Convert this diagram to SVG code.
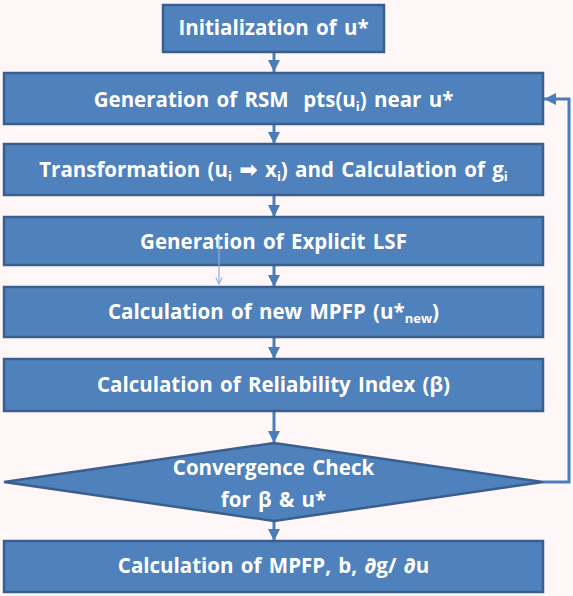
<svg xmlns="http://www.w3.org/2000/svg" width="573" height="596" viewBox="0 0 573 596">
<defs>
<style>
.box{fill:#4F81BD;stroke:#3A5F8E;stroke-width:2.5}
.t{font-family:"Open Sans","Liberation Sans",sans-serif;font-weight:bold;font-size:20.5px;word-spacing:2px;fill:#FFFFFF;text-anchor:middle}
.s{font-size:13px}
.ar{font-family:"DejaVu Sans",sans-serif;font-size:22px}
.c{fill:none;stroke:#4A7EBB;stroke-width:3}
.thin{fill:none;stroke:#8DB0DC;stroke-width:1.2}
</style>
<marker id="ah" viewBox="0 0 10 10" refX="10" refY="5" markerWidth="4" markerHeight="4" orient="auto" markerUnits="strokeWidth">
<path d="M0,0 L10,5 L0,10 Z" fill="#4A7EBB"/>
</marker>
<marker id="oh" viewBox="0 0 10 10" refX="9" refY="5" markerWidth="8" markerHeight="8" orient="auto" markerUnits="userSpaceOnUse">
<path d="M1,1 L9,5 L1,9" fill="none" stroke="#8DB0DC" stroke-width="1.4"/>
</marker>
</defs>
<rect width="573" height="596" fill="#FFF7F7"/>
<g id="connectors">
<line class="c" x1="274" y1="52" x2="274" y2="72" marker-end="url(#ah)"/>
<line class="c" x1="274" y1="124" x2="274" y2="144" marker-end="url(#ah)"/>
<line class="c" x1="274" y1="195" x2="274" y2="217" marker-end="url(#ah)"/>
<line class="c" x1="274" y1="265" x2="274" y2="287" marker-end="url(#ah)"/>
<line class="c" x1="274" y1="337" x2="274" y2="359" marker-end="url(#ah)"/>
<line class="c" x1="274" y1="411" x2="274" y2="443" marker-end="url(#ah)"/>
<line class="c" x1="274" y1="521" x2="274" y2="541" marker-end="url(#ah)"/>
<polyline class="c" points="543,482 569,482 569,99 544,99" marker-end="url(#ah)"/>
</g>
<g id="n1">
<rect class="box" x="163" y="5" width="221" height="47"/>
<text class="t" x="273.5" y="35">Initialization of u*</text>
</g>
<g id="n2">
<rect class="box" x="4" y="73" width="539" height="51"/>
<text class="t" x="273.5" y="107" xml:space="preserve">Generation of RSM  pts(u<tspan class="s" dy="4">i</tspan><tspan dy="-4">) near u*</tspan></text>
</g>
<g id="n3">
<rect class="box" x="4" y="144" width="539" height="51"/>
<text class="t" x="273.5" y="177">Transformation (u<tspan class="s" dy="4">i</tspan><tspan dy="-4"> </tspan><tspan class="ar">➡</tspan><tspan> x</tspan><tspan class="s" dy="4">i</tspan><tspan dy="-4">) and Calculation of g</tspan><tspan class="s" dy="4">i</tspan></text>
</g>
<g id="n4">
<rect class="box" x="4" y="217" width="539" height="48"/>
<text class="t" x="273.5" y="249">Generation of Explicit LSF</text>
</g>
<g id="n5">
<rect class="box" x="4" y="287" width="539" height="50"/>
<text class="t" x="273.5" y="319">Calculation of new MPFP (u*<tspan class="s" dy="4">new</tspan><tspan dy="-4">)</tspan></text>
</g>
<g id="n6">
<rect class="box" x="4" y="359" width="539" height="52"/>
<text class="t" x="273.5" y="392">Calculation of Reliability Index (β)</text>
</g>
<g id="n7">
<polygon class="box" points="274,443 543,482 274,521 4,482"/>
<text class="t" x="273.5" y="475">Convergence Check</text>
<text class="t" x="273.5" y="507">for β &amp; u*</text>
</g>
<g id="n8">
<rect class="box" x="4" y="541" width="539" height="51"/>
<text class="t" x="273.5" y="573">Calculation of MPFP, b, ∂g/ ∂u</text>
</g>
<g id="stray">
<line class="thin" x1="219" y1="238" x2="219" y2="284" marker-end="url(#oh)"/>
</g>
</svg>
